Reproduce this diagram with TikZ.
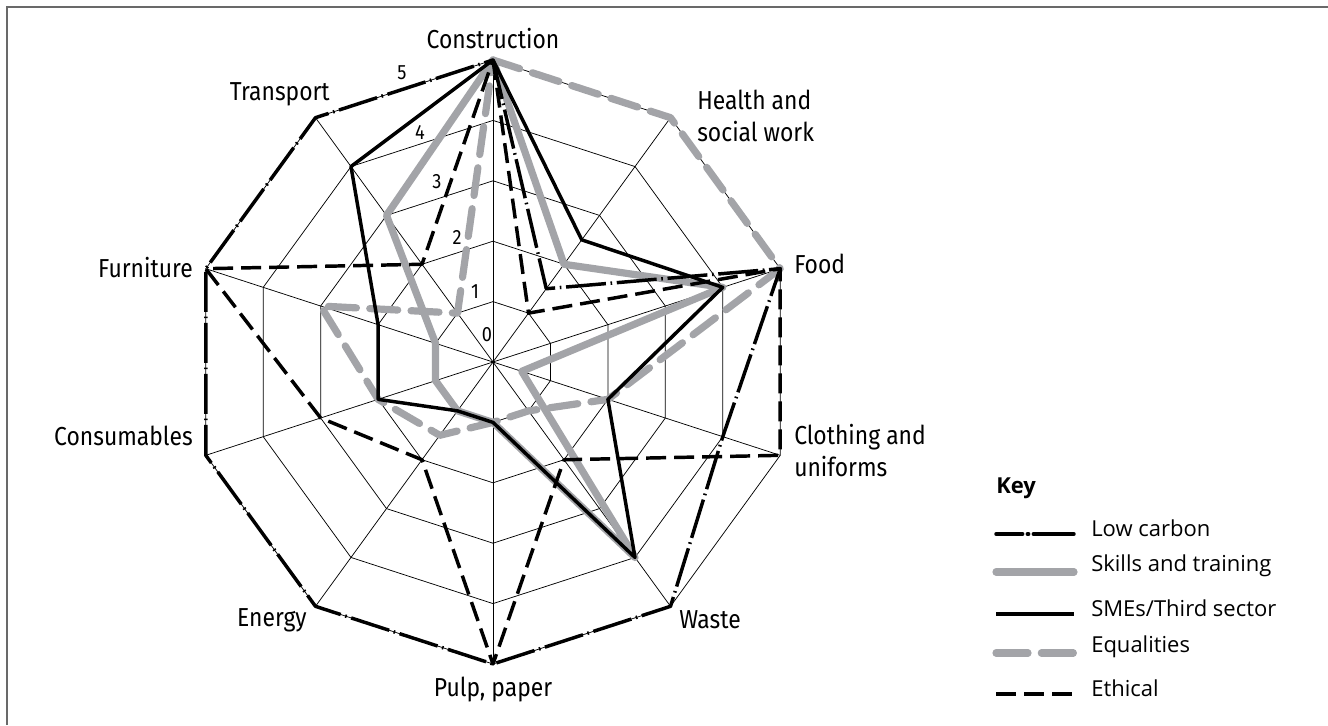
\documentclass[tikz,border=0pt]{standalone}
\usepackage{fontspec}
\setmainfont{Open Sans}
\newfontfamily\axisfont[FakeStretch=0.88]{Fira Sans}
\newfontfamily\keyfont{Open Sans}
\definecolor{linegray}{RGB}{163,164,168}
\definecolor{framegray}{RGB}{105,105,105}

% centre of the chart, and pixels per scale step
\def\cx{493}
\def\cy{362}
\def\un{60.4}

% put the ten points of one series (values clockwise from the top) at prefix0..prefix9
\newcommand\radarpts[2]{%
  \foreach \v [count=\k from 0] in {#2}{%
    \coordinate (#1\k) at ({\cx+\un*\v*cos(90-36*\k)},{\cy-\un*\v*sin(90-36*\k)});}}
\newcommand\radarline[2]{%
  \draw[#2] (#10)--(#11)--(#12)--(#13)--(#14)--(#15)--(#16)--(#17)--(#18)--(#19)--cycle;}
% one key entry: style, y position, index, text
\newcommand\keyentry[4]{%
  \coordinate (ka#3) at (996,#2);
  \coordinate (kb#3) at (1074,#2);
  \draw[#1] (ka#3) -- (kb#3);
  \node[keytext] (kt#3) at (1091,#2-6) {#4};}

\begin{document}
\begin{tikzpicture}[x=0.75pt,y=-0.75pt,
  gridline/.style={black,line width=0.55pt},
  lowcarbon/.style={black,line width=2.6pt,line join=round,
    dash pattern=on 30pt off 3.5pt on 1.2pt off 3.5pt},
  skills/.style={linegray,line width=5.4pt,line join=round,line cap=round},
  smes/.style={black,line width=2.6pt,line join=round},
  equal/.style={linegray,line width=5.4pt,line join=round,line cap=round,
    dash pattern=on 21pt off 10pt},
  ethical/.style={black,line width=2.6pt,line join=round,
    dash pattern=on 15pt off 6pt},
  axislabel/.style={font=\axisfont\fontsize{19.5}{24}\selectfont,inner sep=0pt},
  scalenum/.style={font=\axisfont\fontsize{15.5}{18}\selectfont,inner sep=0pt},
  keytext/.style={font=\keyfont\fontsize{16.5}{18}\selectfont,inner sep=0pt,anchor=west},
]
\useasboundingbox (0,0) rectangle (1328,725);

% frame
\draw[framegray,line width=1.5pt] (7,725) -- (7,7) -- (1328,7);

% grid: rings 1..5 and spokes
\coordinate (c) at (\cx,\cy);
\foreach \r in {1,...,5}{
  \draw[gridline] ({\cx},{\cy-\un*\r})
    \foreach \k in {1,...,9}{ -- ({\cx+\un*\r*cos(90-36*\k)},{\cy-\un*\r*sin(90-36*\k)}) } -- cycle;
}
\radarpts{o}{5,5,5,5,5,5,5,5,5,5}
\foreach \k in {0,...,9}{ \draw[gridline] (c) -- (o\k); }
\fill (c) circle (1.6);

% series, order: Construction, Health, Food, Clothing, Waste, Pulp, Energy, Consumables, Furniture, Transport
\radarpts{eq}{5,5,5,2,1,1,1.5,2,3,1}
\radarpts{sk}{5,2,4,0.5,4,1,1,1,1,3}
\radarpts{et}{5,1,5,5,2,5,2,3,5,2}
\radarpts{lc}{5,1.5,5,4,5,5,5,5,5,5}
\radarpts{sm}{5,2.5,4,2,4,1,1,2,2,4}

\radarline{eq}{equal}
\radarline{sk}{skills}
\radarline{et}{ethical}
\radarline{lc}{lowcarbon}
\radarline{sm}{smes}

% scale numbers
\node[scalenum] (n0) at (487,335) {0};
\node[scalenum] (n1) at (475,292) {1};
\node[scalenum] (n2) at (457,237) {2};
\node[scalenum] (n3) at (437,182) {3};
\node[scalenum] (n4) at (420,132) {4};
\node[scalenum] (n5) at (402,73) {5};

% axis labels
\node[axislabel] (lconstr) at (493,39) {Construction};
\node[axislabel,anchor=west,align=left] (lhealth) at (697,116) {Health and\\social work};
\node[axislabel,anchor=west] (lfood) at (794,264) {Food};
\node[axislabel,anchor=west,align=left] (lcloth) at (794,451) {Clothing and\\uniforms};
\node[axislabel,anchor=west] (lwaste) at (679,620) {Waste};
\node[axislabel] (lpulp) at (493,690) {Pulp, paper};
\node[axislabel,anchor=east] (lenergy) at (307,620) {Energy};
\node[axislabel,anchor=east] (lcons) at (193,436) {Consumables};
\node[axislabel,anchor=east] (lfurn) at (193,268) {Furniture};
\node[axislabel,anchor=east] (ltrans) at (330,94) {Transport};

% key
\node[keytext,font=\keyfont\bfseries\fontsize{16.5}{18}\selectfont] (keyhead) at (996,488) {Key};
\keyentry{lowcarbon,line cap=round,dash pattern=on 20pt off 3.5pt on 1pt off 3.5pt on 60pt}{534}{1}{Low carbon}
\keyentry{skills}{572}{2}{Skills and training}
\keyentry{smes}{614}{3}{SMEs/Third sector}
\keyentry{equal,dash pattern=on 24pt off 10pt}{653}{4}{Equalities}
\keyentry{ethical}{694}{5}{Ethical}
\end{tikzpicture}
\end{document}
